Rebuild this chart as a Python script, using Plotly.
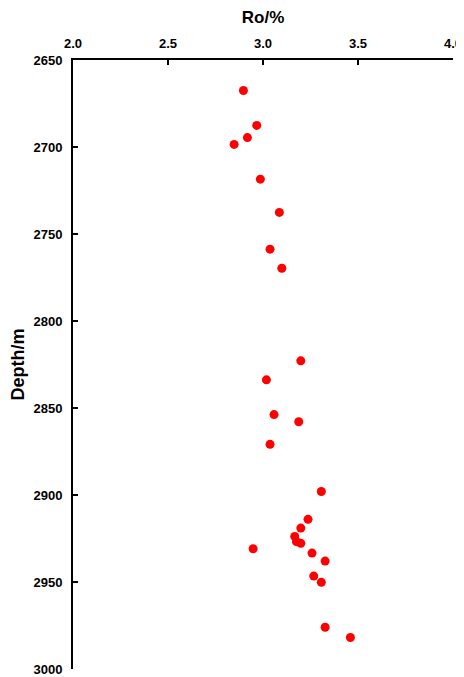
import plotly.graph_objects as go

# Vitrinite reflectance vs depth
ro = [2.897, 2.967, 2.918, 2.848, 2.986, 3.086, 3.037, 3.099,
      3.199, 3.018, 3.058, 3.188, 3.037, 3.307,
      3.237, 3.199, 3.167, 3.176, 3.199, 2.948, 3.258, 3.327,
      3.267, 3.307, 3.327, 3.460]
depth = [2667.5, 2687.6, 2694.6, 2698.5, 2718.5, 2737.6, 2758.7, 2769.7,
         2822.9, 2833.8, 2853.8, 2857.9, 2870.9, 2898.0,
         2914.0, 2919.0, 2923.8, 2926.8, 2927.8, 2930.9, 2933.4, 2938.0,
         2946.6, 2950.2, 2976.0, 2981.9]

x_ticks = [2.0, 2.5, 3.0, 3.5, 4.0]
y_ticks = [2650, 2700, 2750, 2800, 2850, 2900, 2950, 3000]

fig = go.Figure(go.Scatter(
    x=ro, y=depth, mode="markers",
    marker=dict(color="#ff0000", size=9, line=dict(width=0)),
    showlegend=False, cliponaxis=False,
))

# page has an 8px body margin, so the figure is sized to fit the window
font = "Liberation Sans, Arial, sans-serif"
fig.update_layout(
    width=456, height=669,
    margin=dict(l=65, r=11, t=51.5, b=8),
    plot_bgcolor="white", paper_bgcolor="white",
    font=dict(family=font, color="black"),
    xaxis=dict(
        side="top", range=[2.0, 4.0], tickvals=x_ticks,
        ticktext=[f"{v:.1f}" for v in x_ticks],
        showline=True, linecolor="black", linewidth=2,
        ticks="inside", ticklen=5, tickwidth=2, tickcolor="black",
        showgrid=False, zeroline=False, automargin=False,
        ticklabelstandoff=5, ticklabeloverflow="allow",
        tickfont=dict(size=13, weight="bold"),
        title=dict(text="Ro/%", font=dict(size=17, weight="bold"), standoff=10),
    ),
    yaxis=dict(
        range=[3000, 2650], tickvals=y_ticks,
        showline=True, linecolor="black", linewidth=2,
        ticks="inside", ticklen=5, tickwidth=2, tickcolor="black",
        showgrid=False, zeroline=False, automargin=False,
        ticklabelstandoff=6, ticklabeloverflow="allow",
        tickfont=dict(size=13, weight="bold"),
        title=dict(text="Depth/m", font=dict(size=18, weight="bold"), standoff=10),
    ),
)

fig.write_html("out.html")
